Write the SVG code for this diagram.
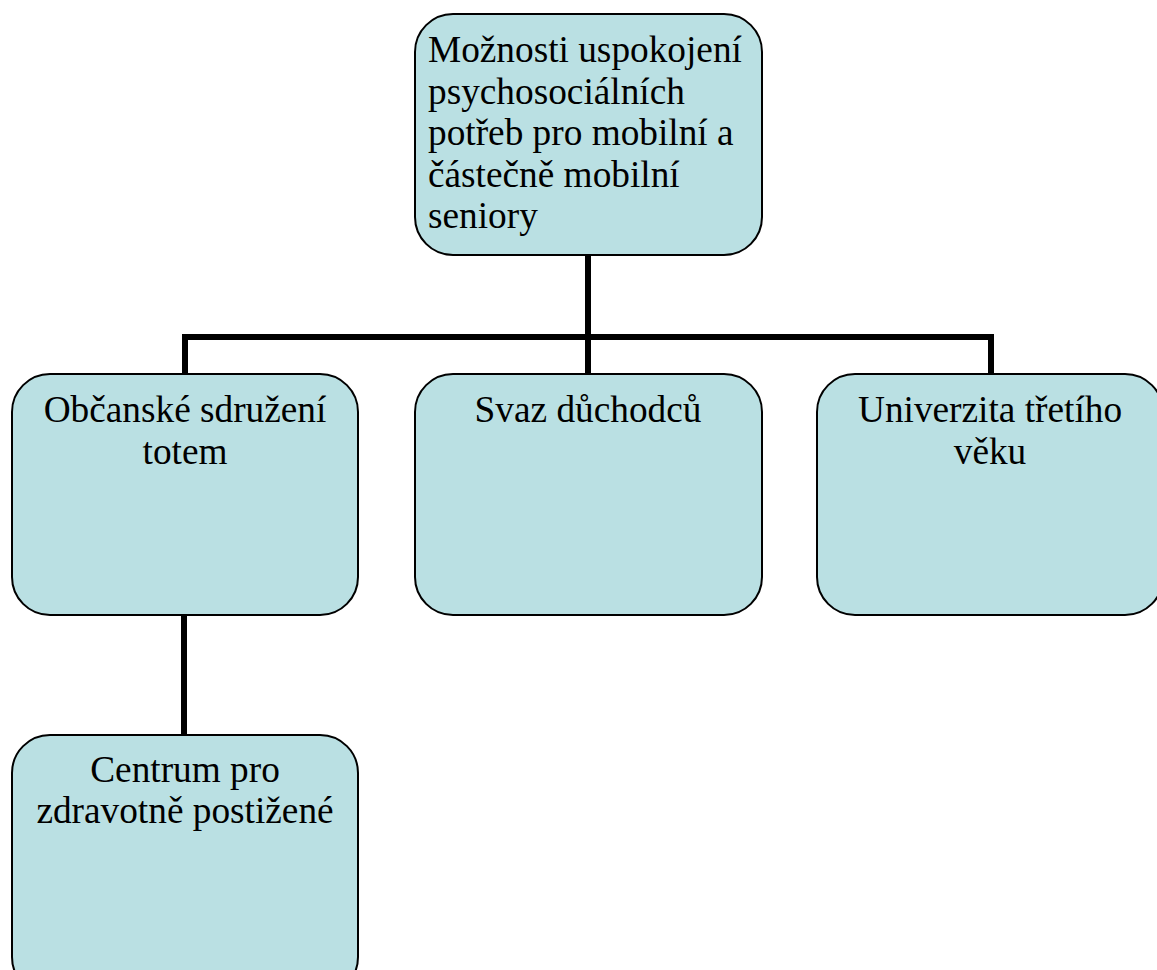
<svg xmlns="http://www.w3.org/2000/svg" width="1157" height="970" viewBox="0 0 1157 970">
<style>
.box{fill:#bae0e3;stroke:#000;stroke-width:2}
.t{font-family:'Liberation Serif','Times New Roman',serif;font-size:37.3px;fill:#000}
.c{text-anchor:middle}
.conn{fill:none;stroke:#000;stroke-width:6}
</style>
<rect width="1157" height="970" fill="#fff"/>
<g id="connectors">
<path class="conn" d="M588 255 V337 M185 374 V337 H991 V374 M588 337 V374 M184 615 V735"/>
</g>
<g id="root">
<rect class="box" x="415" y="14" width="347" height="241" rx="38"/>
<text class="t" x="428" y="62">Možnosti uspokojení</text>
<text class="t" x="428" y="103.5">psychosociálních</text>
<text class="t" x="428" y="145">potřeb pro mobilní a</text>
<text class="t" x="428" y="186.5">částečně mobilní</text>
<text class="t" x="428" y="228">seniory</text>
</g>
<g id="obcanske">
<rect class="box" x="12" y="374" width="346" height="241" rx="38"/>
<text class="t c" x="185" y="422">Občanské sdružení</text>
<text class="t c" x="185" y="464">totem</text>
</g>
<g id="svaz">
<rect class="box" x="415" y="374" width="347" height="241" rx="38"/>
<text class="t c" x="588" y="422">Svaz důchodců</text>
</g>
<g id="univerzita">
<rect class="box" x="817" y="374" width="346" height="241" rx="38"/>
<text class="t c" x="990" y="422">Univerzita třetího</text>
<text class="t c" x="990" y="464">věku</text>
</g>
<g id="centrum">
<rect class="box" x="12" y="735" width="346" height="260" rx="38"/>
<text class="t c" x="185" y="782">Centrum pro</text>
<text class="t c" x="185" y="823">zdravotně postižené</text>
</g>
</svg>
